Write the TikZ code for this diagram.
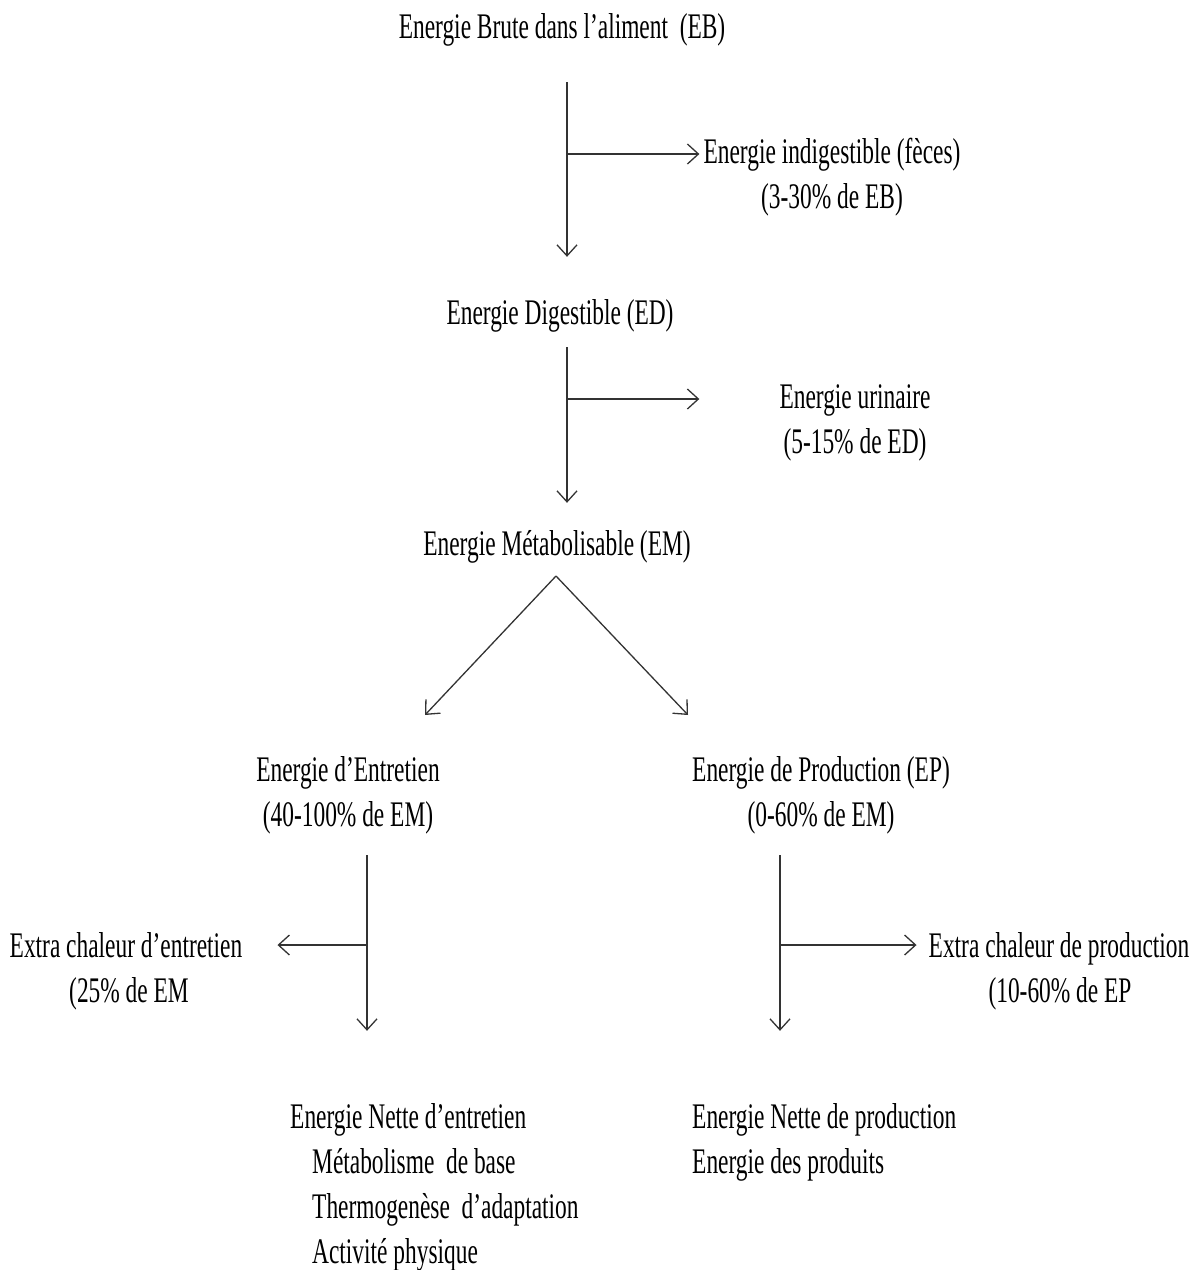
\documentclass[tikz,border=0pt]{standalone}
\usepackage{fontspec}
\setmainfont{Liberation Serif}[FakeStretch=0.65]
\usetikzlibrary{arrows.meta}

\begin{document}
\begin{tikzpicture}[x=1pt,y=1pt,yscale=-1,xscale=1,
  txt/.style={font=\fontsize{36}{43}\selectfont, inner sep=0pt, anchor=base, text height=26pt, text depth=9pt},
  arr/.style={-{Straight Barb[length=11pt,width=20pt]}, line width=1.3pt, draw=black!80}]
\useasboundingbox (0,0) rectangle (1200,1270);

% Text Node
\node[txt] (eb) at (562,38) {Energie Brute dans l’aliment \ (EB)};
% Text Node
\node[txt] (fec) at (832,163) {Energie indigestible (fèces)};
\node[txt] (fecp) at (832,208) {(3-30\% de EB)};
% Text Node
\node[txt] (ed) at (560,324) {Energie Digestible (ED)};
% Text Node
\node[txt] (uri) at (855,408) {Energie urinaire};
\node[txt] (urip) at (855,453) {(5-15\% de ED)};
% Text Node
\node[txt] (em) at (557,555) {Energie Métabolisable (EM)};
% Text Node
\node[txt] (ent) at (348,781) {Energie d’Entretien};
\node[txt] (entp) at (348,826) {(40-100\% de EM)};
% Text Node
\node[txt] (prod) at (821,781) {Energie de Production (EP)};
\node[txt] (prodp) at (821,826) {(0-60\% de EM)};
% Text Node
\node[txt] (xent) at (126,957) {Extra chaleur d’entretien};
\node[txt] (xentp) at (129,1002) {(25\% de EM};
% Text Node
\node[txt] (xprod) at (1059,957) {Extra chaleur de production};
\node[txt] (xprodp) at (1060,1002) {(10-60\% de EP};
% Text Node
\node[txt, anchor=base west] (ne) at (290,1128) {Energie Nette d’entretien};
\node[txt, anchor=base west] (ne1) at (312,1173) {Métabolisme \ de base};
\node[txt, anchor=base west] (ne2) at (312,1218) {Thermogenèse \ d’adaptation};
\node[txt, anchor=base west] (ne3) at (312,1263) {Activité physique};
% Text Node
\node[txt, anchor=base west] (np) at (692,1128) {Energie Nette de production};
\node[txt, anchor=base west] (np1) at (692,1173) {Energie des produits};

% junctions
\coordinate (j1) at (567,154);
\coordinate (j2) at (567,399);
\coordinate (apex) at (556,576);
\coordinate (al) at (425,715);
\coordinate (ar) at (688,715);
\coordinate (j3) at (367,945);
\coordinate (j4) at (780,945);

%Straight Lines
\draw[arr, shorten <=35pt, shorten >=41pt] (eb.south -| j1) -- (ed.north -| j1);
\draw[arr, shorten >=4pt] (j1) -- (j1 -| fec.west);

%Straight Lines
\draw[arr, shorten <=14pt, shorten >=26pt] (ed.south -| j2) -- (em.north -| j2);
\draw[arr, shorten >=80pt] (j2) -- (j2 -| uri.west);

%Straight Lines
\draw[arr] (apex) -- (al);
\draw[arr] (apex) -- (ar);

%Straight Lines
\draw[arr, shorten <=20pt, shorten >=71pt] (entp.south -| j3) -- (ne.north -| j3);
\draw[arr, shorten >=35pt] (j3) -- (j3 -| xent.east);

%Straight Lines
\draw[arr, shorten <=20pt, shorten >=71pt] (prodp.south -| j4) -- (np.north -| j4);
\draw[arr, shorten >=12pt] (j4) -- (j4 -| xprod.west);

\end{tikzpicture}
\end{document}
